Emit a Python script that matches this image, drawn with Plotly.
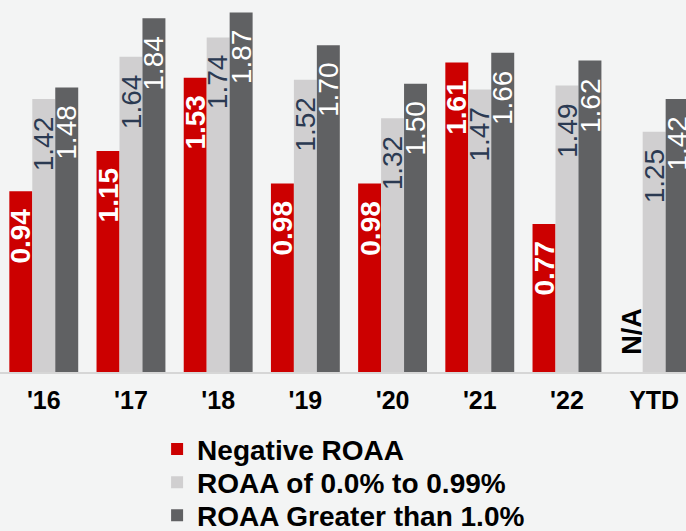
import plotly.graph_objects as go

categories = ["'16", "'17", "'18", "'19", "'20", "'21", "'22", "YTD"]
negative_roaa = [0.94, 1.15, 1.53, 0.98, 0.98, 1.61, 0.77, None]
roaa_0_099 = [1.42, 1.64, 1.74, 1.52, 1.32, 1.47, 1.49, 1.25]
roaa_gt_1 = [1.48, 1.84, 1.87, 1.70, 1.50, 1.66, 1.62, 1.42]
series_names = ["Negative ROAA", "ROAA of 0.0% to 0.99%", "ROAA Greater than 1.0%"]
na_label = "N/A"

colors = ["#cc0000", "#d0cfd0", "#606163"]
label_colors = ["#ffffff", "#2b3a52", "#ffffff"]
label_weights = ["bold", "normal", "normal"]

BARGAP = 0.21
xs = list(range(len(categories)))
series = [negative_roaa, roaa_0_099, roaa_gt_1]
legend_ids = ["legend", "legend2", "legend3"]
legend_rows_y = [-0.208, -0.297, -0.386]

fig = go.Figure()
for name, vals, c, lg in zip(series_names, series, colors, legend_ids):
    fig.add_trace(go.Bar(
        x=xs, y=vals, name=name, marker=dict(color=c, line=dict(width=0)),
        hoverinfo="skip", legend=lg,
    ))

w = (1 - BARGAP) / 3
annotations = []
for k, vals in enumerate(series):
    for i, v in enumerate(vals):
        xpos = i + (k - 1) * w
        if v is None:
            annotations.append(dict(
                x=xpos, y=0, xref="x", yref="y", text=na_label, showarrow=False,
                textangle=-90, yanchor="bottom", xanchor="center", yshift=15,
                font=dict(family="Liberation Sans", size=27, color="#000000", weight="bold"),
            ))
            continue
        annotations.append(dict(
            x=xpos, y=v, xref="x", yref="y", text=f"{v:.2f}", showarrow=False,
            textangle=-90, yanchor="top", xanchor="center", yshift=-15,
            font=dict(family="Liberation Sans", size=28, color=label_colors[k],
                      weight=label_weights[k]),
        ))

legend_font = dict(family="Liberation Sans", size=28, color="#000000", weight="bold")
legend_common = dict(orientation="v", x=0.229, xanchor="left", yanchor="middle",
                     font=legend_font, bgcolor="rgba(0,0,0,0)",
                     itemclick=False, itemdoubleclick=False)

fig.update_layout(
    width=686, height=531,
    margin=dict(l=0, r=0, t=0, b=158.5, autoexpand=False),
    paper_bgcolor="#f3f4f4", plot_bgcolor="#f3f4f4",
    barmode="group", bargap=BARGAP, bargroupgap=0,
    showlegend=True,
    legend=dict(legend_common, y=legend_rows_y[0]),
    legend2=dict(legend_common, y=legend_rows_y[1]),
    legend3=dict(legend_common, y=legend_rows_y[2]),
    xaxis=dict(
        range=[-0.502, 7.365], tickmode="array", tickvals=xs, ticktext=categories,
        showgrid=False, zeroline=False, showline=True, linecolor="#d6d6d6", linewidth=2,
        ticks="", ticklen=0, automargin=False, ticklabelstandoff=5,
        tickfont=dict(family="Liberation Sans", size=25, color="#000000", weight="bold"),
        fixedrange=True,
    ),
    yaxis=dict(range=[0, 1.935], visible=False, showgrid=False, zeroline=False,
               fixedrange=True, automargin=False),
    annotations=annotations,
)

fig.write_html(
    "out.html",
    config={"displayModeBar": False},
    post_script="document.body.style.margin='0';document.body.style.overflow='hidden';",
)
